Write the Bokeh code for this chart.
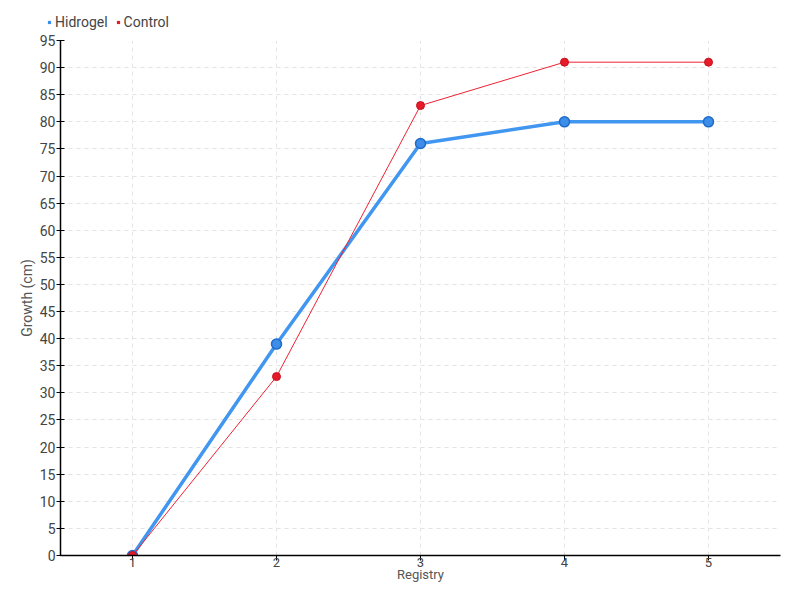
from bokeh.plotting import figure
from bokeh.layouts import column
from bokeh.models import Legend, LegendItem, Range1d, FixedTicker
from bokeh.embed import file_html
from bokeh.resources import INLINE

registry = [1, 2, 3, 4, 5]
hidrogel = [0, 39, 76, 80, 80]
control = [0, 33, 83, 91, 91]
y_ticks = list(range(0, 100, 5))
series_names = ["Hidrogel", "Control"]

FONT = "Roboto, sans-serif"
BLUE = "#3d8ee8"
RED = "#e51b2a"

# legend strip
lg = figure(width=784, height=30, output_backend="svg", toolbar_location=None,
            x_range=Range1d(0, 1), y_range=Range1d(0, 1),
            min_border_left=0, min_border_right=0, min_border_top=0, min_border_bottom=0)
lg.frame_align = False
lg.axis.visible = False
lg.grid.visible = False
lg.outline_line_color = None
blue_sq = lg.scatter([50], [50], marker="square", size=6, fill_color=BLUE, line_color=None)
red_sq = lg.scatter([50], [50], marker="square", size=6, fill_color=RED, line_color=None)
legend = Legend(items=[LegendItem(label=series_names[0], renderers=[blue_sq]),
                       LegendItem(label=series_names[1], renderers=[red_sq])],
                location=(45, 0), orientation="horizontal",
                background_fill_alpha=0, border_line_color=None,
                glyph_width=8, glyph_height=8, label_standoff=2, spacing=6,
                padding=2, margin=0,
                label_text_font=FONT, label_text_font_size="14px", label_text_color="#444444")
lg.add_layout(legend, "center")

p = figure(width=784, height=554, output_backend="svg", toolbar_location=None,
           x_range=Range1d(0.5, 5.5), y_range=Range1d(0, 95),
           min_border_left=60, min_border_right=4, min_border_top=10, min_border_bottom=24)
p.frame_align = False
p.outline_line_color = None

p.line(registry, hidrogel, line_color="#4196f0", line_width=3.5)
p.scatter(registry, hidrogel, size=10, fill_color=BLUE, line_color="#1f6bc8", line_width=1.5)
p.line(registry, control, line_color="#ee2233", line_width=1)
p.scatter(registry, control, size=8, fill_color=RED, line_color="#c8101e", line_width=1)

p.xaxis.ticker = FixedTicker(ticks=registry)
p.yaxis.ticker = FixedTicker(ticks=y_ticks)

for ax in (p.xaxis[0], p.yaxis[0]):
    ax.axis_line_color = "black"
    ax.axis_line_width = 1.5
    ax.major_tick_line_color = "black"
    ax.minor_tick_line_color = None
    ax.major_label_text_font = FONT
    ax.major_label_text_font_size = "14px"
    ax.major_label_text_color = "#444444"
    ax.axis_label_text_font = FONT
    ax.axis_label_text_font_size = "14px"
    ax.axis_label_text_color = "#555555"
    ax.axis_label_text_font_style = "normal"

p.xaxis.axis_label = "Registry"
p.yaxis.axis_label = "Growth (cm)"
p.xaxis.major_label_text_font_size = "13px"
p.xaxis.axis_label_text_font_size = "13px"
p.xaxis.major_tick_in = 0
p.xaxis.major_tick_out = 5
p.xaxis.major_label_standoff = -3
p.xaxis.axis_label_standoff = -3
p.yaxis.major_tick_in = 4
p.yaxis.major_tick_out = 4
p.yaxis.major_label_standoff = 1
p.yaxis.axis_label_standoff = 2

p.xgrid.grid_line_color = "#e3e3e3"
p.xgrid.grid_line_dash = "4 4"
p.ygrid.grid_line_color = "#e3e3e3"
p.ygrid.grid_line_dash = "4 4"

layout = column(lg, p, spacing=0)
open("out.html", "w").write(file_html(layout, INLINE))
